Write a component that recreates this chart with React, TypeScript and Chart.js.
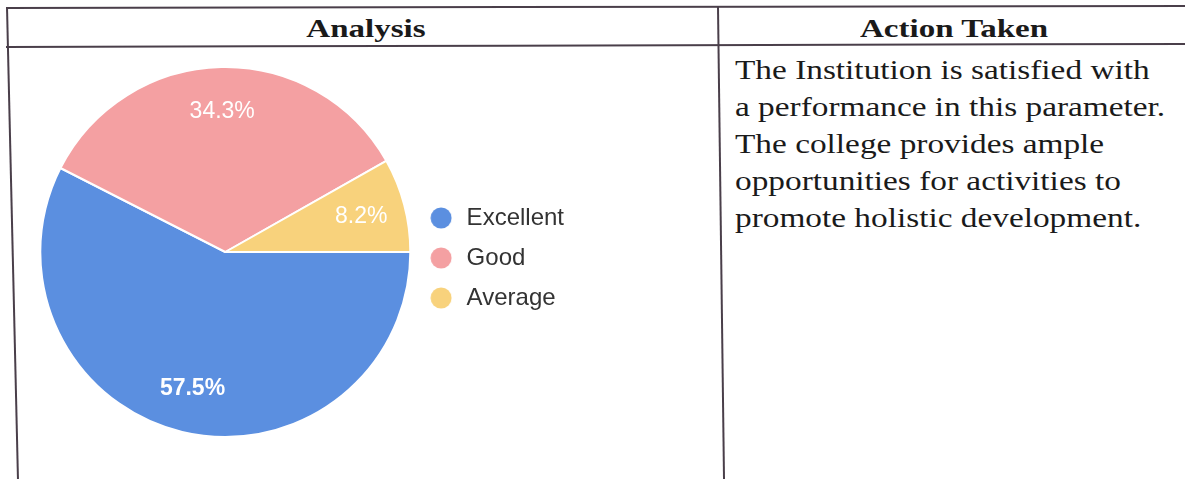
import React, { useEffect, useRef } from "react";
import { Chart, registerables } from "chart.js";

Chart.register(...registerables);

// ---- data ----
const categories = ["Excellent", "Good", "Average"];
const values = [57.5, 34.3, 8.2];
const sliceColors = ["#5b8fe0", "#f4a0a2", "#f8d27c"];
const headerLabels = ["Analysis", "Action Taken"];
const actionLines = [
  "The Institution is satisfied with",
  "a performance in this parameter.",
  "The college provides ample",
  "opportunities for activities to",
  "promote holistic development.",
];

const SANS = '"Liberation Sans", Arial, sans-serif';
const SERIF = '"Liberation Serif", "Times New Roman", serif';

const sliceLabels = {
  id: "sliceLabels",
  afterDatasetsDraw(chart: any) {
    const ctx = chart.ctx;
    const meta = chart.getDatasetMeta(0);
    const data = chart.data.datasets[0].data as number[];
    const total = data.reduce((a: number, b: number) => a + b, 0);
    ctx.save();
    ctx.fillStyle = "#ffffff";
    ctx.textAlign = "center";
    ctx.textBaseline = "middle";
    meta.data.forEach((arc: any, i: number) => {
      const p = arc.getProps(["x", "y", "startAngle", "endAngle", "outerRadius"], true);
      const mid = (p.startAngle + p.endAngle) / 2;
      const r = p.outerRadius * 0.76;
      ctx.font = `${i === 0 ? "bold " : ""}23px ${SANS}`;
      ctx.fillText(((data[i] / total) * 100).toFixed(1) + "%", p.x + Math.cos(mid) * r, p.y + Math.sin(mid) * r);
    });
    ctx.restore();
  },
};

function dot(color: string) {
  const c = document.createElement("canvas");
  c.width = 22;
  c.height = 22;
  const g = c.getContext("2d")!;
  g.fillStyle = color;
  g.beginPath();
  g.arc(11, 11, 10.5, 0, Math.PI * 2);
  g.fill();
  return c;
}

function PieChart() {
  const ref = useRef<HTMLCanvasElement | null>(null);
  useEffect(() => {
    const canvas = ref.current!;
    const m = document.createElement("canvas").getContext("2d")!;
    m.font = `24px ${SANS}`;
    const textW = Math.max(...categories.map((c) => m.measureText(c).width));
    const H = 372;
    const W = Math.ceil(H + 27 + 16 + 10 + 12 + textW);
    canvas.width = W;
    canvas.height = H;
    canvas.style.width = W + "px";
    canvas.style.height = H + "px";
    const dots = sliceColors.map(dot);
    const chart = new Chart(canvas, {
      type: "pie",
      data: {
        labels: categories,
        datasets: [
          {
            data: values,
            backgroundColor: sliceColors,
            borderColor: "#ffffff",
            borderWidth: 2,
          },
        ],
      },
      options: {
        responsive: false,
        animation: false,
        rotation: 90,
        layout: { padding: 0 },
        plugins: {
          tooltip: { enabled: false },
          legend: {
            position: "right",
            align: "center",
            title: { display: true, text: "", font: { size: 10 }, padding: 0 },
            labels: {
              usePointStyle: true,
              pointStyleWidth: 27,
              padding: 16,
              color: "#333333",
              font: { size: 24, family: SANS },
              generateLabels: (ch: any) => {
                const base = (Chart as any).overrides.pie.plugins.legend.labels.generateLabels(ch);
                return base.map((l: any, i: number) => ({ ...l, pointStyle: dots[i], lineWidth: 0 }));
              },
            },
          },
        },
      },
      plugins: [sliceLabels],
    });
    return () => chart.destroy();
  }, []);
  return <canvas ref={ref} style={{ position: "absolute", left: 39, top: 66 }} />;
}

const lineColor = "#4a3f4a";

export default function App() {
  return (
    <div
      style={{
        position: "fixed",
        left: 0,
        top: 0,
        width: 1185,
        height: 479,
        overflow: "hidden",
        background: "#ffffff",
      }}
    >
      {/* table borders */}
      <div style={{ position: "absolute", left: 6, top: 7, width: 1200, height: 2, background: lineColor, transformOrigin: "0 0", transform: "rotate(-0.1deg)" }} />
      <div style={{ position: "absolute", left: 6, top: 46, width: 1200, height: 2, background: lineColor, transformOrigin: "0 0", transform: "rotate(-0.15deg)" }} />
      <div style={{ position: "absolute", left: 6, top: 7, width: 2, height: 480, background: lineColor, transformOrigin: "0 0", transform: "rotate(-1.33deg)" }} />
      <div style={{ position: "absolute", left: 717, top: 7, width: 2, height: 480, background: lineColor, transformOrigin: "0 0", transform: "rotate(-0.73deg)" }} />

      {/* headers */}
      <div style={{ position: "absolute", left: 11, top: 14, width: 709, textAlign: "center", fontFamily: SERIF, fontWeight: "bold", fontSize: 26, color: "#1a1a1a" }}>
        <span style={{ display: "inline-block", transform: "scaleX(1.27)" }}>{headerLabels[0]}</span>
      </div>
      <div style={{ position: "absolute", left: 720, top: 14, width: 468, textAlign: "center", fontFamily: SERIF, fontWeight: "bold", fontSize: 26, color: "#1a1a1a" }}>
        <span style={{ display: "inline-block", transform: "scaleX(1.27)" }}>{headerLabels[1]}</span>
      </div>

      {/* action text */}
      <div
        style={{
          position: "absolute",
          left: 735,
          top: 51,
          fontFamily: SERIF,
          fontSize: 28,
          lineHeight: "37px",
          color: "#1a1a1a",
          whiteSpace: "nowrap",
          transformOrigin: "0 0",
          transform: "scaleX(1.19)",
        }}
      >
        {actionLines.map((t, i) => (
          <div key={i}>{t}</div>
        ))}
      </div>

      <PieChart />
    </div>
  );
}
